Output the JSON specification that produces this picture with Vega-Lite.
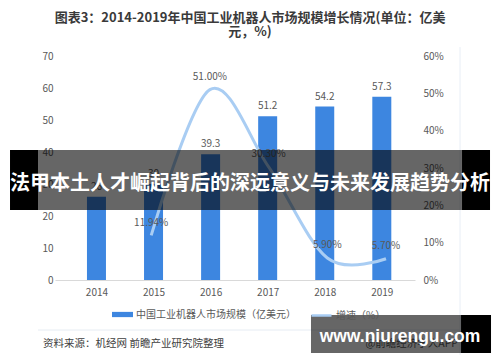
{
  "$schema": "https://vega.github.io/schema/vega-lite/v6.json",
  "width": 360,
  "height": 224,
  "autosize": {"type": "none"},
  "padding": {"left": 55, "top": 56, "right": 85, "bottom": 82},
  "background": "white",
  "config": {
    "view": {"stroke": null},
    "font": "Noto Sans CJK SC",
    "axis": {"labelFont": "Noto Sans CJK SC", "labelColor": "#595959", "labelFontSize": 10, "grid": false, "title": null, "labelOverlap": false}
  },
  "title": {
    "text": ["图表3：2014-2019年中国工业机器人市场规模增长情况(单位：亿美", "元，%)"],
    "font": "Noto Sans CJK SC",
    "fontSize": 13,
    "fontWeight": "bold",
    "color": "#3a3a3a",
    "anchor": "middle",
    "frame": "group",
    "dx": 15,
    "lineHeight": 13.5,
    "offset": 8
  },
  "data": {
    "values": [
      {"year": 2014, "size": 26, "growth": null},
      {"year": 2015, "size": 30, "growth": 0.1194},
      {"year": 2016, "size": 39.3, "growth": 0.51},
      {"year": 2017, "size": 51.2, "growth": 0.303},
      {"year": 2018, "size": 54.2, "growth": 0.059},
      {"year": 2019, "size": 57.3, "growth": 0.057}
    ]
  },
  "resolve": {"scale": {"x": "independent", "y": "independent"}},
  "layer": [
    {
      "layer": [
        {
          "mark": {"type": "bar", "width": 19},
          "encoding": {
            "x": {"field": "year", "type": "quantitative", "scale": {"domain": [2013.361, 2019.494], "nice": false, "zero": false},
              "axis": {"values": [2014, 2015, 2016, 2017, 2018, 2019], "format": "d", "domainColor": "#d9d9d9", "ticks": false, "tickSize": 0, "labelPadding": 7, "labelFlush": false}},
            "y": {"field": "size", "type": "quantitative", "scale": {"domain": [0, 70], "nice": false},
              "axis": {"values": [0, 10, 20, 30, 40, 50, 60, 70], "domain": false, "ticks": false, "tickSize": 0, "labelPadding": 2}},
            "fill": {"datum": "中国工业机器人市场规模（亿美元）", "scale": {"range": ["#3d86e0"]},
              "legend": {"orient": "none", "legendX": 57, "legendY": 248, "title": null, "symbolType": "M-1,-0.25H1V0.25H-1Z", "symbolSize": 441, "symbolStrokeWidth": 0, "labelFontSize": 10, "labelColor": "#595959", "labelFont": "Noto Sans CJK SC", "padding": 0, "labelOffset": 3, "labelLimit": 300}}
          }
        },
        {
          "mark": {"type": "text", "dy": -10, "fontSize": 10, "color": "#595959", "baseline": "middle"},
          "encoding": {
            "x": {"field": "year", "type": "quantitative", "scale": {"domain": [2013.361, 2019.494], "nice": false, "zero": false},
              "axis": {"values": [2014, 2015, 2016, 2017, 2018, 2019], "format": "d", "domainColor": "#d9d9d9", "ticks": false, "tickSize": 0, "labelPadding": 7, "labelFlush": false}},
            "y": {"field": "size", "type": "quantitative", "scale": {"domain": [0, 70], "nice": false},
              "axis": {"values": [0, 10, 20, 30, 40, 50, 60, 70], "domain": false, "ticks": false, "tickSize": 0, "labelPadding": 2}},
            "text": {"field": "size", "type": "quantitative"}
          }
        }
      ]
    },
    {
      "transform": [{"filter": "datum.growth != null"}],
      "layer": [
        {
          "mark": {"type": "line", "interpolate": "cardinal", "strokeWidth": 3},
          "encoding": {
            "x": {"field": "year", "type": "quantitative", "scale": {"domain": [2013.361, 2019.494], "nice": false, "zero": false}, "axis": null},
            "y": {"field": "growth", "type": "quantitative", "scale": {"domain": [0, 0.6], "nice": false},
              "axis": {"orient": "right", "format": ".0%", "values": [0, 0.1, 0.2, 0.3, 0.4, 0.5, 0.6], "domain": false, "ticks": false, "tickSize": 0, "labelPadding": 8}},
            "stroke": {"datum": "增速（%）", "scale": {"range": ["#a9cdf3"]},
              "legend": {"orient": "none", "legendX": 255, "legendY": 248, "title": null, "symbolType": "stroke", "symbolSize": 400, "symbolStrokeWidth": 2.5, "labelFontSize": 10, "labelColor": "#595959", "labelFont": "Noto Sans CJK SC", "padding": 0, "labelOffset": 3, "labelLimit": 300}}
          }
        },
        {
          "mark": {"type": "text", "dy": -12.5, "fontSize": 10, "color": "#595959", "baseline": "middle"},
          "encoding": {
            "x": {"field": "year", "type": "quantitative", "scale": {"domain": [2013.361, 2019.494], "nice": false, "zero": false}, "axis": null},
            "y": {"field": "growth", "type": "quantitative", "scale": {"domain": [0, 0.6], "nice": false},
              "axis": {"orient": "right", "format": ".0%", "values": [0, 0.1, 0.2, 0.3, 0.4, 0.5, 0.6], "domain": false, "ticks": false, "tickSize": 0, "labelPadding": 8}},
            "text": {"field": "growth", "type": "quantitative", "format": ".2%"}
          }
        }
      ]
    },
    {
      "layer": [
        {
          "data": {"values": [{}]},
          "mark": {"type": "rule", "color": "#e6ecf3", "strokeWidth": 1},
          "encoding": {
            "x": {"datum": 2013.0716, "type": "quantitative", "scale": {"domain": [2013.361, 2019.494], "nice": false, "zero": false}, "axis": null},
            "x2": {"datum": 2020.261},
            "y": {"datum": -15.625, "type": "quantitative", "scale": {"domain": [0, 70], "nice": false}, "axis": null}
          }
        },
        {
          "data": {"values": [{}]},
          "mark": {"type": "rule", "color": "#e8eef6", "strokeWidth": 1},
          "encoding": {
            "x": {"datum": 2020.261, "type": "quantitative", "scale": {"domain": [2013.361, 2019.494], "nice": false, "zero": false}, "axis": null},
            "y": {"datum": 72.8, "type": "quantitative", "scale": {"domain": [0, 70], "nice": false}, "axis": null},
            "y2": {"datum": -23.4}
          }
        },
        {
          "data": {"values": [{"t": "资料来源：机经网 前瞻产业研究院整理"}]},
          "mark": {"type": "text", "align": "left", "baseline": "middle", "fontSize": 10.5, "color": "#404040"},
          "encoding": {
            "x": {"datum": 2013.157, "type": "quantitative", "scale": {"domain": [2013.361, 2019.494], "nice": false, "zero": false}, "axis": null},
            "y": {"datum": -20, "type": "quantitative", "scale": {"domain": [0, 70], "nice": false}, "axis": null},
            "text": {"field": "t"}
          }
        },
        {
          "data": {"values": [{"t": "@前瞻经济学人APP"}]},
          "mark": {"type": "text", "align": "right", "baseline": "middle", "fontSize": 10.5, "color": "#595959"},
          "encoding": {
            "x": {"datum": 2020.227, "type": "quantitative", "scale": {"domain": [2013.361, 2019.494], "nice": false, "zero": false}, "axis": null},
            "y": {"datum": -20, "type": "quantitative", "scale": {"domain": [0, 70], "nice": false}, "axis": null},
            "text": {"field": "t"}
          }
        },
        {
          "data": {"values": [{}]},
          "mark": {"type": "rect", "color": "#000000", "opacity": 1},
          "encoding": {
            "x": {"datum": 2012.5946, "type": "quantitative", "scale": {"domain": [2013.361, 2019.494], "nice": false, "zero": false}, "axis": null},
            "x2": {"datum": 2013.0716},
            "y": {"datum": 40.625, "type": "quantitative", "scale": {"domain": [0, 70], "nice": false}, "axis": null},
            "y2": {"datum": 21.875}
          }
        },
        {
          "data": {"values": [{}]},
          "mark": {"type": "rect", "color": "#000000", "opacity": 0.6},
          "encoding": {
            "x": {"datum": 2013.0716, "type": "quantitative", "scale": {"domain": [2013.361, 2019.494], "nice": false, "zero": false}, "axis": null},
            "x2": {"datum": 2020.295},
            "y": {"datum": 40.625, "type": "quantitative", "scale": {"domain": [0, 70], "nice": false}, "axis": null},
            "y2": {"datum": 21.875}
          }
        },
        {
          "data": {"values": [{}]},
          "mark": {"type": "rect", "color": "#000000", "opacity": 1},
          "encoding": {
            "x": {"datum": 2020.295, "type": "quantitative", "scale": {"domain": [2013.361, 2019.494], "nice": false, "zero": false}, "axis": null},
            "x2": {"datum": 2020.772},
            "y": {"datum": 40.625, "type": "quantitative", "scale": {"domain": [0, 70], "nice": false}, "axis": null},
            "y2": {"datum": 21.875}
          }
        },
        {
          "data": {"values": [{"t": "法甲本土人才崛起背后的深远意义与未来发展趋势分析"}]},
          "mark": {"type": "text", "align": "center", "baseline": "middle", "fontSize": 20, "fontWeight": "bold", "color": "#ffffff"},
          "encoding": {
            "x": {"datum": 2016.683, "type": "quantitative", "scale": {"domain": [2013.361, 2019.494], "nice": false, "zero": false}, "axis": null},
            "y": {"datum": 30, "type": "quantitative", "scale": {"domain": [0, 70], "nice": false}, "axis": null},
            "text": {"field": "t"}
          }
        },
        {
          "data": {"values": [{}]},
          "mark": {"type": "rect", "color": "#000000", "opacity": 0.6},
          "encoding": {
            "x": {"datum": 2017.722, "type": "quantitative", "scale": {"domain": [2013.361, 2019.494], "nice": false, "zero": false}, "axis": null},
            "x2": {"datum": 2020.278},
            "y": {"datum": -10.94, "type": "quantitative", "scale": {"domain": [0, 70], "nice": false}, "axis": null},
            "y2": {"datum": -22.81}
          }
        },
        {
          "data": {"values": [{}]},
          "mark": {"type": "rect", "color": "#000000", "opacity": 1},
          "encoding": {
            "x": {"datum": 2020.278, "type": "quantitative", "scale": {"domain": [2013.361, 2019.494], "nice": false, "zero": false}, "axis": null},
            "x2": {"datum": 2020.789},
            "y": {"datum": -10.94, "type": "quantitative", "scale": {"domain": [0, 70], "nice": false}, "axis": null},
            "y2": {"datum": -22.81}
          }
        },
        {
          "data": {"values": [{"t": "www.niurengu.com"}]},
          "mark": {"type": "text", "align": "center", "baseline": "middle", "fontSize": 17.5, "fontWeight": "bold", "font": "Liberation Sans", "color": "#ffffff"},
          "encoding": {
            "x": {"datum": 2019.2385, "type": "quantitative", "scale": {"domain": [2013.361, 2019.494], "nice": false, "zero": false}, "axis": null},
            "y": {"datum": -17.7, "type": "quantitative", "scale": {"domain": [0, 70], "nice": false}, "axis": null},
            "text": {"field": "t"}
          }
        }
      ]
    }
  ]
}
